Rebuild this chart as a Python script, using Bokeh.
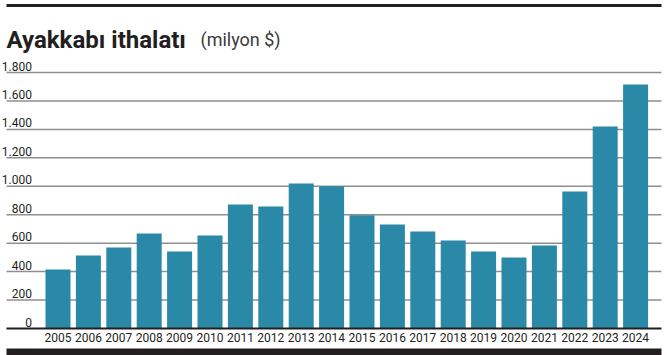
from bokeh.plotting import figure
from bokeh.models import Range1d, ColumnDataSource
from bokeh.core.properties import value
from bokeh.embed import file_html
from bokeh.resources import INLINE

years = ["2005", "2006", "2007", "2008", "2009", "2010", "2011", "2012", "2013", "2014",
         "2015", "2016", "2017", "2018", "2019", "2020", "2021", "2022", "2023", "2024"]
imports = [415, 513, 570, 668, 541, 654, 872, 858, 1020, 1001,
           797, 731, 682, 619, 541, 499, 584, 963, 1420, 1716]
y_ticks = [0, 200, 400, 600, 800, 1000, 1200, 1400, 1600, 1800]
y_tick_labels = ["0", "200", "400", "600", "800", "1.000", "1.200", "1.400", "1.600", "1.800"]
title_main = "Ayakkabı ithalatı"
title_unit = "(milyon $)"

W, H = 667, 355
first_center_px, pitch_px = 57.5, 30.4
base_px, top_tick_px = 328.0, 72.0
ppy = (base_px - top_tick_px) / 1800.0
x_lo = -first_center_px / pitch_px
x_hi = (W - first_center_px) / pitch_px
y_hi = base_px / ppy
y_lo = -(H - base_px) / ppy

def dx(px):
    return x_lo + px / pitch_px

def dy(py):
    return y_hi - py / ppy

p = figure(width=W, height=H, x_range=Range1d(x_lo, x_hi), y_range=Range1d(y_lo, y_hi),
           output_backend="svg", toolbar_location=None, min_border=0,
           x_axis_type=None, y_axis_type=None, outline_line_color=None,
           background_fill_color="white", border_fill_color="white")
p.xgrid.visible = False
p.ygrid.visible = False

lab_font = value("Roboto")

grid_src = ColumnDataSource(dict(x0=[dx(6)] * (len(y_ticks) - 1), x1=[dx(661)] * (len(y_ticks) - 1),
                                 y=y_ticks[1:]))
p.segment(x0="x0", x1="x1", y0="y", y1="y", source=grid_src, line_color="#8f8f8f", line_width=1.5)

src = ColumnDataSource(dict(x=list(range(len(years))), top=imports, label=years))
p.vbar(x="x", top="top", bottom=0, width=25 / pitch_px, source=src,
       fill_color="#2b89a8", line_color=None)

p.segment(x0=[dx(6)], x1=[dx(661)], y0=[0], y1=[0], line_color="#231f20", line_width=2)

p.text(x=[dx(31.5)] * len(y_ticks), y=y_ticks, text=y_tick_labels, text_align="right",
       text_baseline="bottom", y_offset=-2, text_font=lab_font, text_font_size="12px",
       text_color="#231f20")

p.text(x="x", y=0, text="label", source=src, text_align="center", text_baseline="top",
       y_offset=4, text_font=lab_font, text_font_size="12px", text_color="#231f20")

p.segment(x0=[dx(6)], x1=[dx(661)], y0=[dy(5)], y1=[dy(5)], line_color="#231f20", line_width=3)
p.quad(left=[dx(6)], right=[dx(661)], top=[dy(348)], bottom=[dy(355)],
       fill_color="#231f20", line_color=None)

p.text(x=[dx(6)], y=[dy(39)], text=[title_main], text_font=value("Roboto"),
       text_font_style="bold", text_font_size="24px", text_baseline="alphabetic",
       text_color="#231f20")
p.text(x=[dx(200)], y=[dy(39)], text=[title_unit], text_font=value("Roboto"),
       text_font_size="18px", text_baseline="alphabetic", text_color="#3a3a3a")

open("out.html", "w").write(file_html(p, INLINE))
